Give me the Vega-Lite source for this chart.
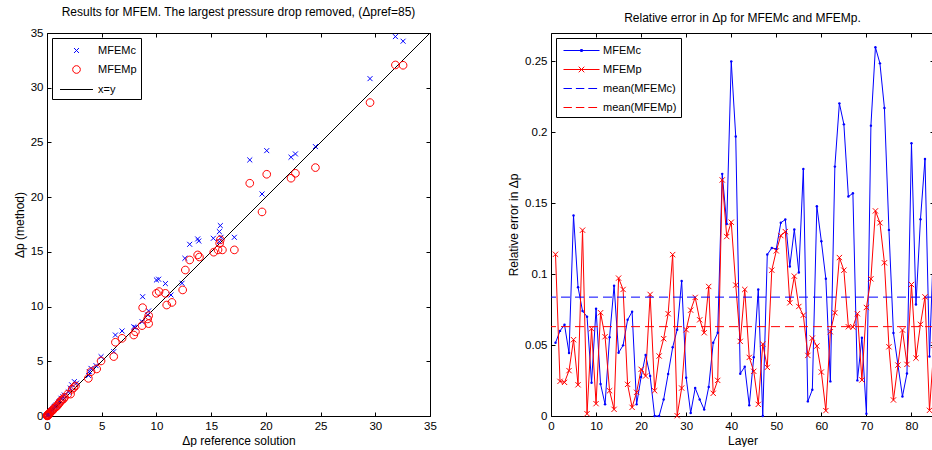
{
  "$schema": "https://vega.github.io/schema/vega-lite/v6.json",
  "padding": {"left": 13, "top": 6, "right": 0, "bottom": 0},
  "config": {
    "font": "Liberation Sans",
    "view": {"stroke": null},
    "axis": {"domainColor": "black", "tickColor": "black", "labelColor": "black", "titleColor": "black", "labelFontSize": 11.5, "titleFontSize": 12, "titleFontWeight": "normal", "tickSize": -4, "labelPadding": 8, "grid": false, "domainWidth": 1, "tickWidth": 1, "titlePadding": 4, "labelFlush": false, "labelOverlap": false},
    "title": {"fontSize": 12, "fontWeight": "normal", "color": "black", "offset": 8, "frame": "group"},
    "legend": {"labelFontSize": 11, "labelColor": "black", "strokeColor": "black", "fillColor": "white", "cornerRadius": 0, "padding": 4, "rowPadding": 5, "symbolSize": 256, "symbolStrokeWidth": 1, "symbolOpacity": 1, "labelOffset": 13, "title": null, "orient": "top-left", "offset": 5}
  },
  "resolve": {"scale": {"color": "independent", "shape": "independent"}, "legend": {"color": "independent", "shape": "independent"}},
  "datasets": {
    "diag": [{"ref": 0, "method": 0}, {"ref": 35, "method": 35}],
    "scatter": [
      {"series": "MFEMc", "ref": 31.84, "method": 34.67}, {"series": "MFEMc", "ref": 32.54, "method": 34.25}, {"series": "MFEMc", "ref": 29.52, "method": 30.83}, {"series": "MFEMc", "ref": 24.53, "method": 24.62}, {"series": "MFEMc", "ref": 22.3, "method": 23.65}, {"series": "MFEMc", "ref": 22.7, "method": 23.95}, {"series": "MFEMc", "ref": 20.08, "method": 24.25}, {"series": "MFEMc", "ref": 18.53, "method": 23.4}, {"series": "MFEMc", "ref": 19.65, "method": 20.29},
      {"series": "MFEMc", "ref": 15.84, "method": 17.4}, {"series": "MFEMc", "ref": 15.75, "method": 16.85}, {"series": "MFEMc", "ref": 15.9, "method": 16.33}, {"series": "MFEMc", "ref": 15.75, "method": 15.93}, {"series": "MFEMc", "ref": 15.2, "method": 16.24}, {"series": "MFEMc", "ref": 17.12, "method": 16.33}, {"series": "MFEMc", "ref": 13.77, "method": 16.18}, {"series": "MFEMc", "ref": 13.87, "method": 15.99}, {"series": "MFEMc", "ref": 13.04, "method": 15.69}, {"series": "MFEMc", "ref": 12.6, "method": 14.41}, {"series": "MFEMc", "ref": 12.34, "method": 12.13}, {"series": "MFEMc", "ref": 10.0, "method": 12.43}, {"series": "MFEMc", "ref": 10.2, "method": 12.5}, {"series": "MFEMc", "ref": 10.82, "method": 12.1}, {"series": "MFEMc", "ref": 11.33, "method": 11.06}, {"series": "MFEMc", "ref": 8.74, "method": 10.9}, {"series": "MFEMc", "ref": 9.29, "method": 9.6}, {"series": "MFEMc", "ref": 9.2, "method": 9.24}, {"series": "MFEMc", "ref": 8.69, "method": 8.62}, {"series": "MFEMc", "ref": 7.93, "method": 8.14}, {"series": "MFEMc", "ref": 8.05, "method": 8.1}, {"series": "MFEMc", "ref": 6.86, "method": 7.77}, {"series": "MFEMc", "ref": 6.25, "method": 7.4}, {"series": "MFEMc", "ref": 6.1, "method": 5.88}, {"series": "MFEMc", "ref": 4.94, "method": 5.42}, {"series": "MFEMc", "ref": 4.48, "method": 4.6}, {"series": "MFEMc", "ref": 4.02, "method": 4.35}, {"series": "MFEMc", "ref": 3.87, "method": 4.05}, {"series": "MFEMc", "ref": 3.8, "method": 3.7},
      {"series": "MFEMc", "ref": 2.7, "method": 3.0}, {"series": "MFEMc", "ref": 2.5, "method": 3.14}, {"series": "MFEMc", "ref": 2.25, "method": 2.85}, {"series": "MFEMc", "ref": 2.13, "method": 2.55}, {"series": "MFEMc", "ref": 1.95, "method": 2.2}, {"series": "MFEMc", "ref": 1.58, "method": 1.92}, {"series": "MFEMc", "ref": 1.45, "method": 1.75}, {"series": "MFEMc", "ref": 1.28, "method": 1.62}, {"series": "MFEMc", "ref": 1.2, "method": 1.4}, {"series": "MFEMc", "ref": 1.1, "method": 1.3}, {"series": "MFEMc", "ref": 0.97, "method": 1.16}, {"series": "MFEMc", "ref": 0.85, "method": 1.0}, {"series": "MFEMc", "ref": 0.75, "method": 0.9}, {"series": "MFEMc", "ref": 0.67, "method": 0.85}, {"series": "MFEMc", "ref": 0.55, "method": 0.7}, {"series": "MFEMc", "ref": 0.45, "method": 0.55}, {"series": "MFEMc", "ref": 0.37, "method": 0.5}, {"series": "MFEMc", "ref": 0.3, "method": 0.4}, {"series": "MFEMc", "ref": 0.25, "method": 0.3}, {"series": "MFEMc", "ref": 0.2, "method": 0.25}, {"series": "MFEMc", "ref": 0.15, "method": 0.2}, {"series": "MFEMc", "ref": 0.12, "method": 0.15}, {"series": "MFEMc", "ref": 0.1, "method": 0.12}, {"series": "MFEMc", "ref": 0.08, "method": 0.1}, {"series": "MFEMc", "ref": 0.06, "method": 0.08}, {"series": "MFEMc", "ref": 0.05, "method": 0.06}, {"series": "MFEMc", "ref": 0.04, "method": 0.05}, {"series": "MFEMc", "ref": 0.03, "method": 0.04}, {"series": "MFEMc", "ref": 0.02, "method": 0.03}, {"series": "MFEMc", "ref": 0.02, "method": 0.02},
      {"series": "MFEMp", "ref": 31.84, "method": 32.08}, {"series": "MFEMp", "ref": 32.54, "method": 32.05}, {"series": "MFEMp", "ref": 29.52, "method": 28.64}, {"series": "MFEMp", "ref": 24.53, "method": 22.7}, {"series": "MFEMp", "ref": 22.3, "method": 21.73}, {"series": "MFEMp", "ref": 22.7, "method": 22.18}, {"series": "MFEMp", "ref": 20.08, "method": 22.09}, {"series": "MFEMp", "ref": 18.53, "method": 21.27}, {"series": "MFEMp", "ref": 19.65, "method": 18.65},
      {"series": "MFEMp", "ref": 15.84, "method": 16.1}, {"series": "MFEMp", "ref": 15.78, "method": 15.78}, {"series": "MFEMp", "ref": 15.63, "method": 15.18}, {"series": "MFEMp", "ref": 16.03, "method": 15.18}, {"series": "MFEMp", "ref": 17.12, "method": 15.18}, {"series": "MFEMp", "ref": 15.24, "method": 14.97}, {"series": "MFEMp", "ref": 13.77, "method": 14.72}, {"series": "MFEMp", "ref": 13.93, "method": 14.53}, {"series": "MFEMp", "ref": 13.04, "method": 14.26}, {"series": "MFEMp", "ref": 12.64, "method": 13.34}, {"series": "MFEMp", "ref": 12.4, "method": 11.52}, {"series": "MFEMp", "ref": 10.0, "method": 11.21}, {"series": "MFEMp", "ref": 10.24, "method": 11.37}, {"series": "MFEMp", "ref": 10.82, "method": 11.21}, {"series": "MFEMp", "ref": 10.94, "method": 10.14}, {"series": "MFEMp", "ref": 11.42, "method": 10.38}, {"series": "MFEMp", "ref": 8.74, "method": 9.9}, {"series": "MFEMp", "ref": 9.29, "method": 9.17}, {"series": "MFEMp", "ref": 9.29, "method": 8.44}, {"series": "MFEMp", "ref": 8.69, "method": 8.26}, {"series": "MFEMp", "ref": 9.2, "method": 8.87}, {"series": "MFEMp", "ref": 7.93, "method": 7.4}, {"series": "MFEMp", "ref": 8.08, "method": 7.7}, {"series": "MFEMp", "ref": 6.86, "method": 7.1}, {"series": "MFEMp", "ref": 6.25, "method": 6.74}, {"series": "MFEMp", "ref": 6.1, "method": 5.43}, {"series": "MFEMp", "ref": 4.94, "method": 5.03}, {"series": "MFEMp", "ref": 4.54, "method": 4.3}, {"series": "MFEMp", "ref": 4.02, "method": 4.05}, {"series": "MFEMp", "ref": 3.78, "method": 3.44},
      {"series": "MFEMp", "ref": 2.6, "method": 2.75}, {"series": "MFEMp", "ref": 2.45, "method": 2.6}, {"series": "MFEMp", "ref": 2.3, "method": 2.45}, {"series": "MFEMp", "ref": 2.15, "method": 2.0}, {"series": "MFEMp", "ref": 1.9, "method": 2.0}, {"series": "MFEMp", "ref": 1.6, "method": 1.7}, {"series": "MFEMp", "ref": 1.5, "method": 1.55}, {"series": "MFEMp", "ref": 1.35, "method": 1.45}, {"series": "MFEMp", "ref": 1.25, "method": 1.35}, {"series": "MFEMp", "ref": 1.15, "method": 1.2}, {"series": "MFEMp", "ref": 1.05, "method": 1.1}, {"series": "MFEMp", "ref": 0.95, "method": 0.95}, {"series": "MFEMp", "ref": 0.85, "method": 0.85}, {"series": "MFEMp", "ref": 0.75, "method": 0.78}, {"series": "MFEMp", "ref": 0.65, "method": 0.68}, {"series": "MFEMp", "ref": 0.55, "method": 0.55}, {"series": "MFEMp", "ref": 0.45, "method": 0.47}, {"series": "MFEMp", "ref": 0.38, "method": 0.4}, {"series": "MFEMp", "ref": 0.3, "method": 0.32}, {"series": "MFEMp", "ref": 0.25, "method": 0.26}, {"series": "MFEMp", "ref": 0.2, "method": 0.2}, {"series": "MFEMp", "ref": 0.15, "method": 0.16}, {"series": "MFEMp", "ref": 0.12, "method": 0.12}, {"series": "MFEMp", "ref": 0.1, "method": 0.1}, {"series": "MFEMp", "ref": 0.08, "method": 0.08}, {"series": "MFEMp", "ref": 0.06, "method": 0.06}, {"series": "MFEMp", "ref": 0.05, "method": 0.05}, {"series": "MFEMp", "ref": 0.04, "method": 0.04}, {"series": "MFEMp", "ref": 0.03, "method": 0.03}, {"series": "MFEMp", "ref": 0.02, "method": 0.02}, {"series": "MFEMp", "ref": 0.01, "method": 0.01}
    ],
    "err": [
      {"layer": 1, "c": 0.0516, "p": 0.114}, {"layer": 2, "c": 0.06, "p": 0.0244}, {"layer": 3, "c": 0.0643, "p": 0.0237}, {"layer": 4, "c": 0.0444, "p": 0.032}, {"layer": 5, "c": 0.1413, "p": 0.0538},
      {"layer": 6, "c": 0.0908, "p": 0.022}, {"layer": 7, "c": 0.074, "p": 0.131}, {"layer": 8, "c": 0.07, "p": 0.0016}, {"layer": 9, "c": 0.0235, "p": 0.0615}, {"layer": 10, "c": 0.0756, "p": 0.0087},
      {"layer": 11, "c": 0.0225, "p": 0.0728}, {"layer": 12, "c": 0.0082, "p": 0.0559}, {"layer": 13, "c": 0.0555, "p": 0.0178}, {"layer": 14, "c": 0.0918, "p": 0.0047}, {"layer": 15, "c": 0.0446, "p": 0.0972},
      {"layer": 16, "c": 0.0498, "p": 0.0892}, {"layer": 17, "c": 0.0678, "p": 0.0223}, {"layer": 18, "c": 0.0735, "p": 0.0061}, {"layer": 19, "c": 0.0082, "p": 0.0167}, {"layer": 20, "c": 0.0275, "p": 0.0329},
      {"layer": 21, "c": 0.043, "p": 0.0282}, {"layer": 22, "c": 0.0282, "p": 0.0857}, {"layer": 23, "c": 0.0, "p": 0.0178}, {"layer": 24, "c": 0.0, "p": 0.0423}, {"layer": 25, "c": 0.0117, "p": 0.0545},
      {"layer": 26, "c": 0.0296, "p": 0.0721}, {"layer": 27, "c": 0.0484, "p": 0.1138}, {"layer": 28, "c": 0.0608, "p": 0.0002}, {"layer": 29, "c": 0.0951, "p": 0.0197}, {"layer": 30, "c": 0.027, "p": 0.0608},
      {"layer": 31, "c": 0.0021, "p": 0.0746}, {"layer": 32, "c": 0.0197, "p": 0.0836}, {"layer": 33, "c": 0.0117, "p": 0.0678}, {"layer": 34, "c": 0.0045, "p": 0.0587}, {"layer": 35, "c": 0.0204, "p": 0.0913},
      {"layer": 36, "c": 0.0516, "p": 0.016}, {"layer": 37, "c": 0.0587, "p": 0.0251}, {"layer": 38, "c": 0.1707, "p": 0.1664}, {"layer": 39, "c": 0.1354, "p": 0.1265}, {"layer": 40, "c": 0.25, "p": 0.1366},
      {"layer": 41, "c": 0.197, "p": 0.0923}, {"layer": 42, "c": 0.0298, "p": 0.0526}, {"layer": 43, "c": 0.0347, "p": 0.0892}, {"layer": 44, "c": 0.0075, "p": 0.0413}, {"layer": 45, "c": 0.0415, "p": 0.0315},
      {"layer": 46, "c": 0.0892, "p": 0.0082}, {"layer": 47, "c": 0.0, "p": 0.0507}, {"layer": 48, "c": 0.1138, "p": 0.0343}, {"layer": 49, "c": 0.1185, "p": 0.1028}, {"layer": 50, "c": 0.1178, "p": 0.1164},
      {"layer": 51, "c": 0.1362, "p": 0.1272}, {"layer": 52, "c": 0.1385, "p": 0.13}, {"layer": 53, "c": 0.1054, "p": 0.0798}, {"layer": 54, "c": 0.1315, "p": 0.0986}, {"layer": 55, "c": 0.1012, "p": 0.0772},
      {"layer": 56, "c": 0.1742, "p": 0.0711}, {"layer": 57, "c": 0.0103, "p": 0.0427}, {"layer": 58, "c": 0.0185, "p": 0.0549}, {"layer": 59, "c": 0.1479, "p": 0.0493}, {"layer": 60, "c": 0.1232, "p": 0.031},
      {"layer": 61, "c": 0.0967, "p": 0.0038}, {"layer": 62, "c": 0.0244, "p": 0.0594}, {"layer": 63, "c": 0.1758, "p": 0.0728}, {"layer": 64, "c": 0.2204, "p": 0.1117}, {"layer": 65, "c": 0.2056, "p": 0.1028},
      {"layer": 66, "c": 0.1547, "p": 0.0629}, {"layer": 67, "c": 0.157, "p": 0.0627}, {"layer": 68, "c": 0.0251, "p": 0.0721}, {"layer": 69, "c": 0.0552, "p": 0.0254}, {"layer": 70, "c": 0.0016, "p": 0.0765},
      {"layer": 71, "c": 0.2047, "p": 0.0967}, {"layer": 72, "c": 0.2599, "p": 0.1446}, {"layer": 73, "c": 0.2486, "p": 0.1362}, {"layer": 74, "c": 0.2171, "p": 0.108}, {"layer": 75, "c": 0.1312, "p": 0.0488},
      {"layer": 76, "c": 0.0585, "p": 0.0113}, {"layer": 77, "c": 0.036, "p": 0.0359}, {"layer": 78, "c": 0.0138, "p": 0.0606}, {"layer": 79, "c": 0.03, "p": 0.0364}, {"layer": 80, "c": 0.1923, "p": 0.0927},
      {"layer": 81, "c": 0.0786, "p": 0.0408}, {"layer": 82, "c": 0.1387, "p": 0.0646}, {"layer": 83, "c": 0.1812, "p": 0.084}, {"layer": 84, "c": 0.042, "p": 0.004}, {"layer": 85, "c": 0.13, "p": 0.05}
    ],
    "means": [{"series": "mean(MFEMc)", "value": 0.0838}, {"series": "mean(MFEMp)", "value": 0.063}]
  },
  "spacing": 70,
  "hconcat": [
    {
      "title": "Results for MFEM. The largest pressure drop removed, (Δpref=85)",
      "width": 383, "height": 383,
      "resolve": {"axis": {"x": "independent", "y": "independent"}},
      "layer": [
        {
          "data": {"name": "diag"},
          "mark": {"type": "line", "color": "black", "strokeWidth": 1},
          "encoding": {
            "x": {"field": "ref", "type": "quantitative", "scale": {"domain": [0, 35], "nice": false}, "axis": {"orient": "bottom", "values": [0, 5, 10, 15, 20, 25, 30, 35], "title": "Δp reference solution"}},
            "y": {"field": "method", "type": "quantitative", "scale": {"domain": [0, 35], "nice": false}, "axis": {"orient": "left", "values": [0, 5, 10, 15, 20, 25, 30, 35], "title": "Δp (method)"}}
          }
        },
        {
          "data": {"name": "scatter"},
          "mark": {"type": "point", "filled": false, "size": 256, "strokeWidth": 1, "opacity": 1},
          "encoding": {
            "x": {"field": "ref", "type": "quantitative", "axis": {"orient": "top", "labels": false, "title": null, "values": [0, 5, 10, 15, 20, 25, 30, 35]}},
            "y": {"field": "method", "type": "quantitative", "axis": {"orient": "right", "labels": false, "title": null, "values": [0, 5, 10, 15, 20, 25, 30, 35]}},
            "shape": {"field": "series", "type": "nominal", "scale": {"domain": ["MFEMc", "MFEMp", "x=y"], "range": ["M-0.31,-0.31L0.31,0.31M-0.31,0.31L0.31,-0.31", "M0.48,0A0.48,0.48,0,1,1,-0.48,0A0.48,0.48,0,1,1,0.48,0Z", "M-2.06,0L2.06,0"]}, "legend": {"symbolOffset": 12}},
            "color": {"field": "series", "type": "nominal", "scale": {"domain": ["MFEMc", "MFEMp", "x=y"], "range": ["#0000ff", "#ff0000", "#000000"]}, "legend": {"symbolOffset": 12}}
          }
        }
      ]
    },
    {
      "title": "Relative error in Δp for MFEMc and MFEMp.",
      "width": 383, "height": 383,
      "resolve": {"axis": {"x": "independent", "y": "independent"}},
      "layer": [
        {
          "data": {"name": "err"},
          "mark": {"type": "line", "color": "#0000ff", "strokeWidth": 1},
          "encoding": {
            "x": {"field": "layer", "type": "quantitative", "scale": {"domain": [0, 85], "nice": false}, "axis": {"orient": "bottom", "values": [0, 10, 20, 30, 40, 50, 60, 70, 80], "title": "Layer"}},
            "y": {"field": "c", "type": "quantitative", "scale": {"domain": [0, 0.27], "nice": false}, "axis": {"orient": "left", "values": [0, 0.05, 0.1, 0.15, 0.2, 0.25], "format": "~g", "title": "Relative error in Δp"}}
          }
        },
        {
          "data": {"name": "err"},
          "mark": {"type": "line", "color": "#ff0000", "strokeWidth": 1},
          "encoding": {
            "x": {"field": "layer", "type": "quantitative", "axis": {"orient": "top", "labels": false, "title": null, "values": [0, 10, 20, 30, 40, 50, 60, 70, 80]}},
            "y": {"field": "p", "type": "quantitative", "axis": {"orient": "right", "labels": false, "title": null, "values": [0, 0.05, 0.1, 0.15, 0.2, 0.25]}}
          }
        },
        {
          "data": {"name": "err"},
          "mark": {"type": "point", "filled": true, "color": "#0000ff", "size": 6, "shape": "circle", "opacity": 1},
          "encoding": {
            "x": {"field": "layer", "type": "quantitative", "axis": null},
            "y": {"field": "c", "type": "quantitative", "axis": null}
          }
        },
        {
          "data": {"name": "err"},
          "mark": {"type": "point", "filled": false, "color": "#ff0000", "size": 256, "strokeWidth": 1, "opacity": 1, "shape": "M-0.33,-0.33L0.33,0.33M-0.33,0.33L0.33,-0.33"},
          "encoding": {
            "x": {"field": "layer", "type": "quantitative", "axis": null},
            "y": {"field": "p", "type": "quantitative", "axis": null}
          }
        },
        {
          "data": {"name": "means"},
          "transform": [{"filter": "datum.series == 'mean(MFEMc)'"}],
          "mark": {"type": "rule", "strokeDash": [9, 5], "strokeWidth": 1, "color": "#0000ff"},
          "encoding": {
            "y": {"field": "value", "type": "quantitative", "axis": null}
          }
        },
        {
          "data": {"name": "means"},
          "transform": [{"filter": "datum.series == 'mean(MFEMp)'"}],
          "mark": {"type": "rule", "strokeDash": [9, 5], "strokeWidth": 1, "color": "#ff0000"},
          "encoding": {
            "y": {"field": "value", "type": "quantitative", "axis": null}
          }
        },
        {
          "data": {"name": "means"},
          "mark": {"type": "point", "filled": false, "size": 256, "strokeWidth": 1, "opacity": 0},
          "encoding": {
            "y": {"field": "value", "type": "quantitative", "axis": null},
            "color": {"field": "series", "type": "nominal", "scale": {"domain": ["MFEMc", "MFEMp", "mean(MFEMc)", "mean(MFEMp)"], "range": ["#0000ff", "#ff0000", "#0000ff", "#ff0000"]}, "legend": {"symbolOffset": 13}},
            "shape": {"field": "series", "type": "nominal", "scale": {"domain": ["MFEMc", "MFEMp", "mean(MFEMc)", "mean(MFEMp)"], "range": ["M-2.25,0L2.25,0M-0.12,-0.12L0.12,-0.12L0.12,0.12L-0.12,0.12Z", "M-2.25,0L2.25,0M-0.35,-0.35L0.35,0.35M-0.35,0.35L0.35,-0.35", "M-2.25,0L-1.2,0M-0.7,0L0.35,0M0.85,0L1.95,0", "M-2.25,0L-1.2,0M-0.7,0L0.35,0M0.85,0L1.95,0"]}, "legend": {"symbolOffset": 13}}
          }
        }
      ]
    }
  ]
}
